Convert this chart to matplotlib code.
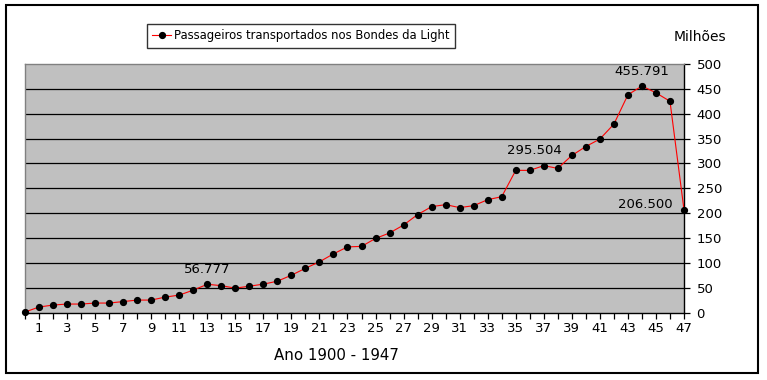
import matplotlib
matplotlib.use("Agg")
import matplotlib.pyplot as plt
from matplotlib.patches import Rectangle

# Dados (milhões de passageiros), ano 1900 + n
anos = list(range(48))
passageiros = [1, 11, 15, 17, 17, 19, 19, 22, 25, 25,
               31, 35, 45, 56.777, 54, 49, 53, 57, 63, 75,
               89, 102, 118, 132, 133, 149, 160, 176, 197, 213,
               217, 211, 215, 227, 233, 286, 286, 295.504, 290, 316,
               334, 349, 379, 438, 455.791, 442, 425, 206.5]
rotulos = {13: "56.777", 37: "295.504", 44: "455.791"}
rotulo_final = "206.500"
y_ticks = list(range(0, 501, 50))

W, H = 767, 380
fig = plt.figure(figsize=(W / 100, H / 100), dpi=100)
fig.patch.set_facecolor("white")

# cadre extérieur
fig.patches.append(Rectangle((6 / W, 1 - 373 / H), (758 - 6) / W, (373 - 5) / H,
                             transform=fig.transFigure, fill=False,
                             edgecolor="black", linewidth=1.5))

ax = fig.add_axes([25 / W, 1 - 312.5 / H, (684 - 25) / W, (312.5 - 64) / H])
ax.set_facecolor("#C0C0C0")
ax.set_xlim(0, 47)
ax.set_ylim(0, 500)

for v in y_ticks[1:-1]:
    ax.axhline(v, color="black", linewidth=0.9, zorder=1)

ax.plot(anos, passageiros, color="red", linewidth=0.8, marker="o",
        markersize=4.2, markerfacecolor="black", markeredgecolor="black",
        label="Passageiros transportados nos Bondes da Light", zorder=3,
        clip_on=False)

for i, txt in rotulos.items():
    dx = -7 if i == 37 else 0
    ax.annotate(txt, (anos[i], passageiros[i]), xytext=(dx, 6),
                textcoords="offset points", ha="center", va="bottom",
                fontsize=9.5)
ax.annotate(rotulo_final, (anos[-1], passageiros[-1]), xytext=(-8, 4),
            textcoords="offset points", ha="right", va="center", fontsize=9.5)

# axes
ax.yaxis.tick_right()
ax.set_yticks(y_ticks)
ax.set_yticklabels([str(v) for v in y_ticks])
ax.set_xticks(anos)
ax.set_xticklabels([str(a) if a % 2 == 1 else "" for a in anos])
ax.tick_params(axis="both", direction="out", length=4, width=0.9,
               labelsize=9.5, color="black")
ax.tick_params(axis="x", pad=3)
ax.tick_params(axis="y", pad=5)

for s in ("top", "left"):
    ax.spines[s].set_color("#808080")
    ax.spines[s].set_linewidth(1.0)
for s in ("bottom", "right"):
    ax.spines[s].set_color("black")
    ax.spines[s].set_linewidth(1.0)

fig.text(336 / W, 1 - 355 / H, "Ano 1900 - 1947", ha="center", va="center",
         fontsize=10.8)
fig.text(700 / W, 1 - 37 / H, "Milhões", ha="center", va="center",
         fontsize=10)

leg = fig.legend(loc="center", bbox_to_anchor=(301 / W, 1 - 36 / H),
                 fontsize=8.4, frameon=True, fancybox=False,
                 handlelength=1.6, handletextpad=0.3, borderpad=0.45,
                 borderaxespad=0)
leg.get_frame().set_edgecolor("black")
leg.get_frame().set_linewidth(1.0)

fig.savefig("out.png", dpi=100)
